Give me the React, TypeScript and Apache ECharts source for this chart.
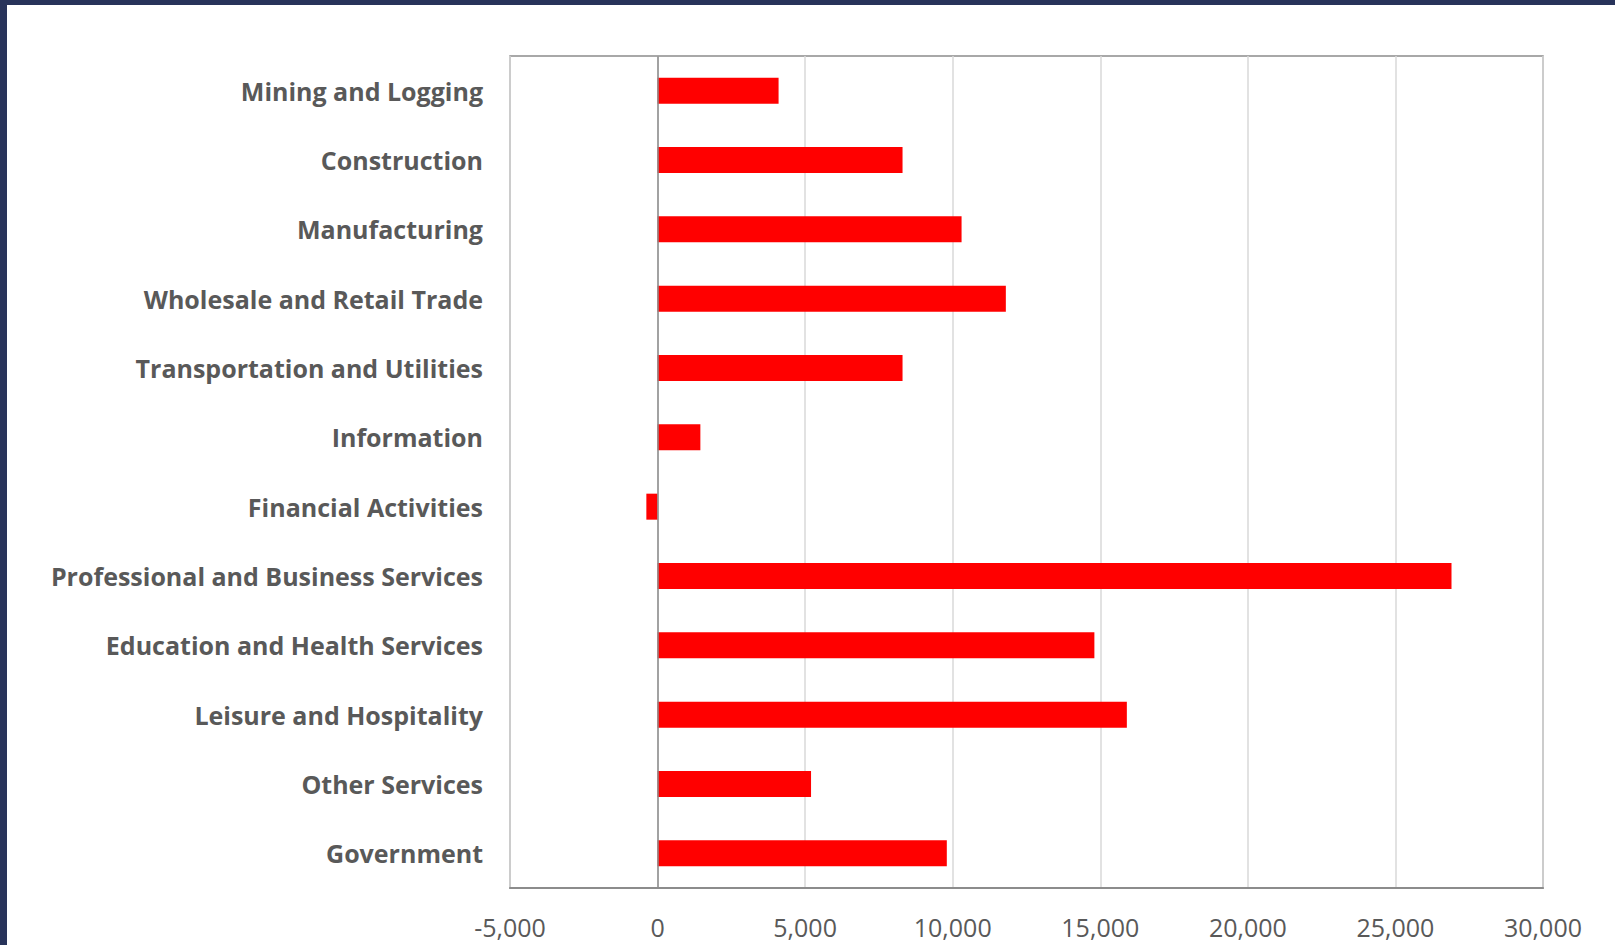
import React, { useEffect, useRef } from "react";
import * as echarts from "echarts";

const categories = [
  "Mining and Logging",
  "Construction",
  "Manufacturing",
  "Wholesale and Retail Trade",
  "Transportation and Utilities",
  "Information",
  "Financial Activities",
  "Professional and Business Services",
  "Education and Health Services",
  "Leisure and Hospitality",
  "Other Services",
  "Government",
];

const values = [4100, 8300, 10300, 11800, 8300, 1450, -380, 26900, 14800, 15900, 5200, 9800];

const xMin = -5000;
const xMax = 30000;
const xStep = 5000;

export default function App() {
  const ref = useRef<HTMLDivElement>(null);

  useEffect(() => {
    if (!ref.current) return;
    const chart = echarts.init(ref.current, null, { renderer: "svg" });
    chart.setOption({
      animation: false,
      backgroundColor: "#ffffff",
      textStyle: { fontFamily: "Open Sans" },
      graphic: [
        { type: "rect", left: 0, top: 0, shape: { width: 1615, height: 5 }, style: { fill: "#28335a" }, silent: true },
        { type: "rect", left: 0, top: 0, shape: { width: 7, height: 945 }, style: { fill: "#28335a" }, silent: true },
      ],
      grid: {
        left: 510,
        right: 72,
        top: 56,
        bottom: 57,
        show: true,
        borderColor: "#8c8c8c",
        borderWidth: 1.5,
        containLabel: false,
      },
      xAxis: {
        type: "value",
        min: xMin,
        max: xMax,
        interval: xStep,
        axisLine: { show: true, lineStyle: { color: "#8c8c8c", width: 2 } },
        axisTick: { show: false },
        splitLine: { show: true, lineStyle: { color: "#d9d9d9", width: 1.5 } },
        axisLabel: {
          color: "#595959",
          fontSize: 25,
          fontFamily: "Open Sans",
          margin: 26,
          formatter: (v: number) => v.toLocaleString("en-US"),
        },
      },
      yAxis: {
        type: "category",
        data: categories,
        inverse: true,
        axisLine: { show: false },
        axisTick: { show: false },
        splitLine: { show: false },
        axisLabel: {
          color: "#595959",
          fontSize: 25,
          fontWeight: "bold",
          fontFamily: "Open Sans",
          margin: 27,
        },
      },
      series: [
        {
          type: "bar",
          data: values,
          barWidth: 26,
          itemStyle: { color: "#ff0000" },
          markLine: {
            silent: true,
            symbol: ["none", "none"],
            label: { show: false },
            lineStyle: { color: "#8c8c8c", width: 1.5, type: "solid" },
            data: [{ xAxis: 0 }],
          },
        },
      ],
    });
    return () => chart.dispose();
  }, []);

  return (
    <div style={{ position: "fixed", left: 0, top: 0, width: 1615, height: 945 }}>
      <div ref={ref} style={{ width: 1615, height: 945 }} />
    </div>
  );
}
